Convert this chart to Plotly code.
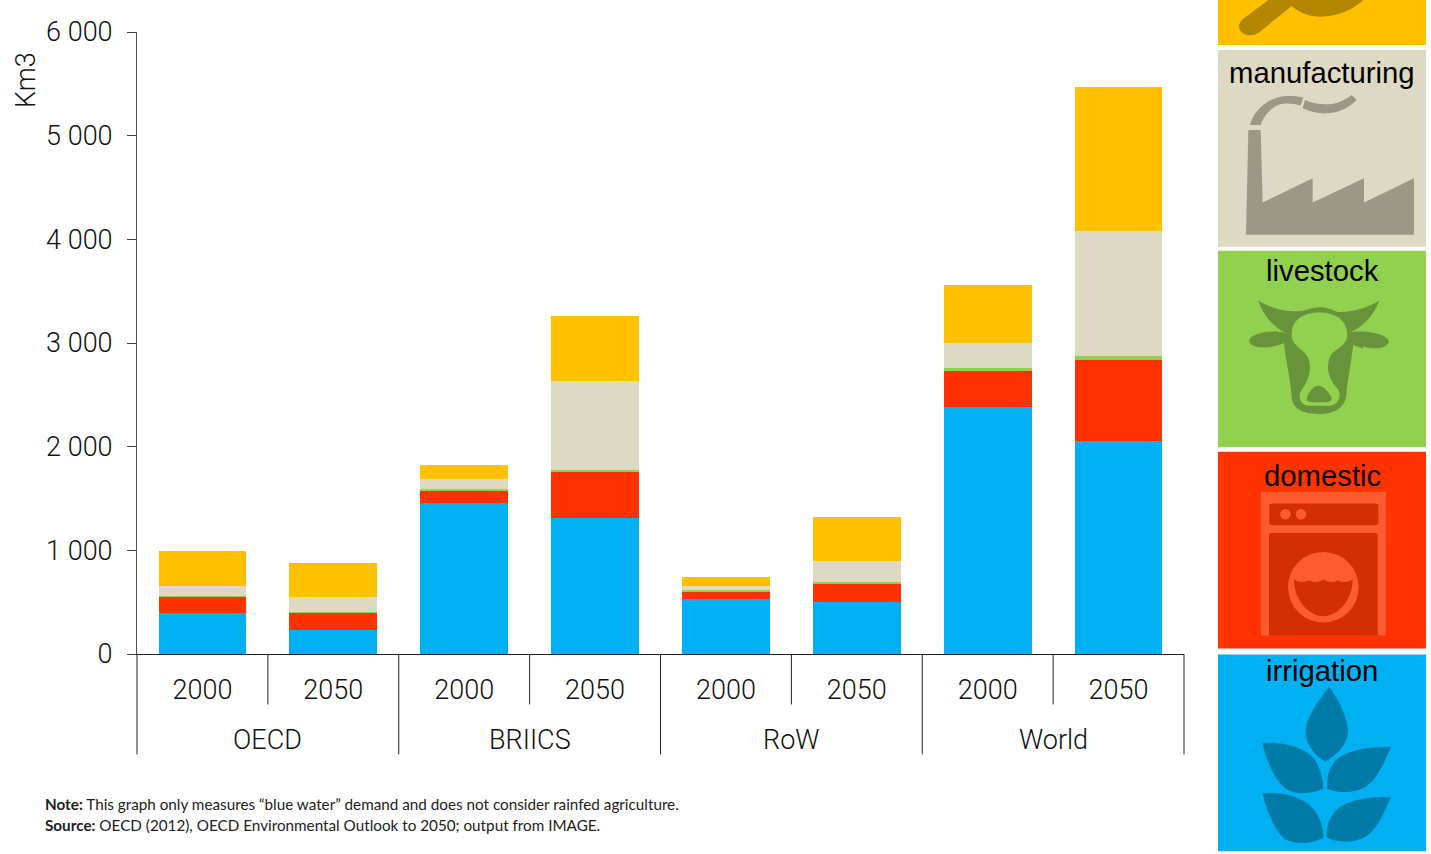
import re
import plotly.graph_objects as go

W, H = 1431, 854
L, R, T, B = 137, 1184, 32, 654.5

regions = ["OECD", "BRIICS", "RoW", "World"]
years = ["2000", "2050", "2000", "2050", "2000", "2050", "2000", "2050"]
bars = ["OECD 2000", "OECD 2050", "BRIICS 2000", "BRIICS 2050", "RoW 2000", "RoW 2050", "World 2000", "World 2050"]
irrigation = [397, 233, 1460, 1313, 535, 506, 2386, 2053]
domestic = [154, 164, 115, 449, 70, 176, 347, 785]
livestock = [6, 6, 12, 16, 10, 17, 28, 39]
manufacturing = [96, 148, 103, 858, 38, 196, 237, 1205]
electricity = [345, 328, 137, 627, 94, 430, 565, 1383]

series_names = ["irrigation", "domestic", "livestock", "manufacturing", "electricity"]
series_values = [irrigation, domestic, livestock, manufacturing, electricity]
series_colors = ["#00B0F0", "#FF3300", "#92D050", "#DDD9C3", "#FFC000"]
y_ticks = [0, 1000, 2000, 3000, 4000, 5000, 6000]

AXIS_FONT = dict(family="Roboto", size=27, color="#111111", weight=300)


def fx(px):
    return (px - L) / (R - L)


def fy(py):
    return (B - py) / (B - T)


def path(d, ox, oy):
    """Convert an icon outline drawn in 3x crop pixels to paper coordinates."""
    def rep(m):
        x = ox + float(m.group(1)) / 3
        y = oy + float(m.group(2)) / 3
        return f"{fx(x):.5f},{fy(y):.5f}"
    return re.sub(r"(-?[\d.]+),(-?[\d.]+)", rep, d)


shapes = []


def rect(x0, y0, x1, y1, color):
    shapes.append(dict(type="rect", xref="paper", yref="paper", x0=fx(x0), x1=fx(x1),
                       y0=fy(y1), y1=fy(y0), fillcolor=color, line_width=0, layer="above"))


def icon(d, ox, oy, color):
    shapes.append(dict(type="path", xref="paper", yref="paper", path=path(d, ox, oy),
                       fillcolor=color, line_width=0, layer="above"))


def circle(cx, cy, r, ox, oy, color):
    xc, yc, rp = ox + cx / 3, oy + cy / 3, r / 3
    shapes.append(dict(type="circle", xref="paper", yref="paper", x0=fx(xc - rp), x1=fx(xc + rp),
                       y0=fy(yc + rp), y1=fy(yc - rp), fillcolor=color, line_width=0, layer="above"))


def vline(px, y_bottom):
    shapes.append(dict(type="line", xref="paper", yref="paper", x0=fx(px), x1=fx(px),
                       y0=fy(B), y1=fy(y_bottom), line=dict(color="#222222", width=1)))


# axis group separators
for i in range(9):
    px = L + i * (R - L) / 8
    vline(px, 755 if i % 2 == 0 else 705)

# side panel
rect(1218, 0, 1426, 45, "#FFC000")
rect(1218, 50, 1426, 247, "#DDD9C3")
rect(1218, 251, 1426, 447.5, "#92D050")
rect(1218, 452, 1426, 649, "#FF3300")
rect(1218, 655, 1426, 852, "#00B0F0")

# top panel icon
icon("M87,80 C87,65 100,55 115,45 L175,0 L460,0 C430,30 380,50 330,50 C300,50 270,40 245,18 "
     "L150,95 C125,115 90,105 87,80 Z", 1210, 0, "#B38600")

# factory
FC = "#9C9886"
icon("M108,705 L115,390 L152,390 L158,608 L308,535 L308,608 L462,535 L462,608 L612,535 L612,705 Z", 1210, 0, FC)
icon("M120,375 C130,330 180,285 240,288 C255,288 270,290 280,293 L272,317 C250,310 225,308 205,315 "
     "C180,325 160,350 152,375 Z", 1210, 0, FC)
icon("M285,300 C310,312 340,315 365,312 C390,308 410,298 425,285 L440,300 C420,320 390,338 355,340 "
     "C325,342 300,335 278,325 Z", 1210, 0, FC)

# cow
CW, CL = "#67933A", "#92D050"
icon("M145,903 C190,930 250,942 290,930 C320,918 350,920 380,936 C420,940 470,925 508,903 "
     "C490,950 455,985 420,998 C460,990 530,1000 537,1025 C530,1048 490,1050 460,1040 L458,1046 L430,1036 "
     "L410,1170 C412,1228 370,1243 325,1243 C280,1243 245,1228 245,1190 C240,1130 225,1070 222,1030 "
     "C170,1052 120,1045 117,1022 C125,998 190,988 228,1000 C195,985 160,950 145,903 Z", 1210, 0, CW)
icon("M245,1005 C245,955 285,938 328,938 C375,938 412,960 412,1005 C412,1040 375,1045 360,1070 "
     "C350,1100 350,1130 385,1170 C395,1190 385,1215 360,1218 L295,1218 C270,1215 262,1190 275,1170 "
     "C300,1140 305,1100 295,1075 C280,1045 245,1040 245,1005 Z", 1210, 0, CL)
icon("M325,1158 C345,1158 365,1190 365,1198 C365,1208 345,1208 325,1208 C305,1208 290,1208 290,1198 "
     "C290,1190 305,1158 325,1158 Z", 1210, 0, CW)

# washing machine
WL, WD = "#FF5A30", "#D42E05"
rect(1210 + 153 / 3, 430 + 186 / 3, 1210 + 528 / 3, 430 + 618 / 3, WL)
icon("M186,222 L497,222 Q505,222 505,230 L505,279 Q505,287 497,287 L186,287 Q178,287 178,279 "
     "L178,230 Q178,222 186,222 Z", 1210, 430, WD)
icon("M185,310 L495,310 Q503,310 503,318 L503,618 L177,618 L177,318 Q177,310 185,310 Z", 1210, 430, WD)
circle(226, 254, 16, 1210, 430, WL)
circle(273, 254, 16, 1210, 430, WL)
circle(340, 473, 106, 1210, 430, WL)
icon("M252,450 Q274,464 296,452 Q318,464 340,450 Q362,464 384,452 Q406,464 428,450 "
     "C428,510 385,560 340,560 C295,560 252,510 252,450 Z", 1210, 430, WD)

# leaves
LF = "#007BA8"
for d in [
    "M358,772 C320,820 285,870 287,910 C290,950 320,985 347,996 C380,975 415,945 414,900 C410,860 385,810 358,772 Z",
    "M157,942 C230,935 300,960 320,1000 C335,1030 340,1055 340,1078 C310,1090 270,1100 230,1080 C190,1050 170,990 157,942 Z",
    "M543,953 C470,950 410,965 380,990 C350,1020 350,1060 352,1078 C390,1095 440,1090 470,1070 C510,1040 525,990 543,953 Z",
    "M157,1092 C230,1085 290,1110 315,1145 C335,1175 340,1200 340,1225 C310,1240 265,1250 225,1230 C190,1200 170,1140 157,1092 Z",
    "M543,1103 C470,1100 410,1115 380,1140 C350,1170 348,1210 351,1225 C390,1242 440,1240 470,1220 C510,1190 525,1140 543,1103 Z",
]:
    icon(d, 1210, 430, LF)

annotations = []


def label(text, px, py, font, xanchor="center", angle=0):
    annotations.append(dict(text=text, xref="paper", yref="paper", x=fx(px), y=fy(py), xanchor=xanchor,
                            yanchor="middle", showarrow=False, textangle=angle, font=font))


panel_font = dict(family="Liberation Sans", size=29.3, color="#000000", weight=400)
for txt, py in [("manufacturing", 73), ("livestock", 271), ("domestic", 476), ("irrigation", 671)]:
    label(txt, 1322, py, panel_font)

for i, region in enumerate(regions):
    label(region, L + (2 * i + 1) * (R - L) / 8, 741, AXIS_FONT)

label("Km3", 26, 80, AXIS_FONT, angle=-90)
note_font = dict(family="Lato", size=15.25, color="#222222", weight=400)
label("<b>Note:</b> This graph only measures “blue water” demand and does not consider rainfed agriculture.",
      43, 804.5, note_font, xanchor="left")
label("<b>Source:</b> OECD (2012), OECD Environmental Outlook to 2050; output from IMAGE.",
      43, 825.5, note_font, xanchor="left")

fig = go.Figure()
for name, vals, color in zip(series_names, series_values, series_colors):
    fig.add_bar(name=name, x=bars, y=vals, marker=dict(color=color, line_width=0))

fig.update_layout(
    width=W, height=H, barmode="stack", bargap=0.33, showlegend=False,
    paper_bgcolor="white", plot_bgcolor="white", separators=". ",
    margin=dict(l=L, r=W - R, t=T, b=H - B, pad=0),
    font=AXIS_FONT, shapes=shapes, annotations=annotations,
)
fig.update_xaxes(type="category", tickvals=bars, ticktext=years, ticklabelstandoff=12, showline=True,
                 linecolor="#222222", linewidth=1, ticks="", showgrid=False, zeroline=False, tickfont=AXIS_FONT)
fig.update_yaxes(range=[0, 6000], tickvals=y_ticks, tickformat=",d", showline=True, linecolor="#555555",
                 linewidth=1, ticks="outside", ticklen=9, tickcolor="#444444", showgrid=False, zeroline=False,
                 ticklabelstandoff=9, tickfont=AXIS_FONT)

fig.write_html("out.html", config={"displayModeBar": False},
               post_script="document.body.style.margin='0';")
